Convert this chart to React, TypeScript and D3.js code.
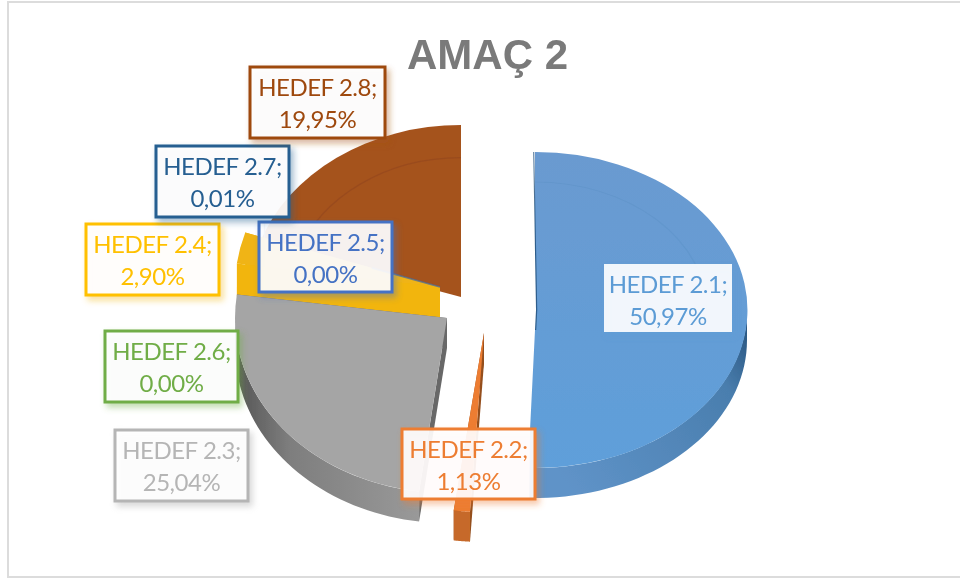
import React from "react";
import * as d3 from "d3";

const title = "AMAÇ 2";
const categories = ["HEDEF 2.1", "HEDEF 2.2", "HEDEF 2.3", "HEDEF 2.4", "HEDEF 2.5", "HEDEF 2.6", "HEDEF 2.7", "HEDEF 2.8"];
const shares = [50.97, 1.13, 25.04, 2.9, 0.0, 0.0, 0.01, 19.95];
const shareLabels = ["50,97%", "1,13%", "25,04%", "2,90%", "0,00%", "0,00%", "0,01%", "19,95%"];
const colors = ["#5f9bd5", "#ed7d31", "#a5a5a5", "#f0b414", "#4472c4", "#70ad47", "#255e91", "#a5521e"];
const labelText = ["#5b9bd5", "#ed7d31", "#b5b5b5", "#ffc000", "#4472c4", "#70ad47", "#255e91", "#9e480e"];

// exploded slice placement: apex x, apex y, radius x, radius y
const sliceFrames: [number, number, number, number][] = [
  [535, 310, 212, 158],
  [484, 333, 230, 179],
  [447, 318, 212, 175],
  [440, 287, 205, 175],
  [440, 287, 205, 175],
  [440, 287, 205, 175],
  [461, 297, 212, 172],
  [461, 297, 212, 172],
];
// label box: left, top, right, bottom
const labelBoxes: [number, number, number, number][] = [
  [603, 263, 733, 333],
  [401, 428, 536, 500],
  [114, 429, 249, 502],
  [85, 223, 220, 296],
  [258, 221, 393, 293],
  [104, 330, 239, 403],
  [155, 145, 290, 218],
  [249, 66, 386, 139],
];
const paintOrder = [7, 6, 4, 5, 3, 2, 1, 0];
const DEPTH = 30;

const pie = d3.pie<number>().sort(null).startAngle(0).endAngle(2 * Math.PI);
const arcs = pie(shares);
const unitArc = d3.arc<any>().innerRadius(0).outerRadius(1);
const rimArc = d3.arc<any>().innerRadius(0.81).outerRadius(0.81);

function pt(f: number[], a: number, r = 1, dz = 0): [number, number] {
  return [f[0] + f[2] * r * Math.sin(a), f[1] - f[3] * r * Math.cos(a) + dz];
}
const line = d3.line();

function outerWall(f: number[], a0: number, a1: number): string | null {
  const s = Math.max(a0, Math.PI / 2);
  const e = Math.min(a1, (3 * Math.PI) / 2);
  if (e <= s) return null;
  const angs = d3.range(0, 41).map((i) => s + ((e - s) * i) / 40);
  const top = angs.map((a) => pt(f, a));
  const bottom = angs.slice().reverse().map((a) => pt(f, a, 1, DEPTH));
  return line([...top, ...bottom]) + "Z";
}
function radialWall(f: number[], a: number, depth = DEPTH): string {
  return line([pt(f, a, 0), pt(f, a), pt(f, a, 1, depth), pt(f, a, 0, depth)]) + "Z";
}

export default function App() {
  return (
    <svg width={960} height={579} style={{ position: "absolute", left: 0, top: 0, background: "#fff" }}>
      <defs>
        <filter id="soft" x="-5%" y="-5%" width="110%" height="110%">
          <feGaussianBlur stdDeviation="0.7" />
        </filter>
        <filter id="txt" x="-5%" y="-5%" width="110%" height="110%">
          <feGaussianBlur stdDeviation="0.35" />
        </filter>
        {colors.map((c, i) => (
          <filter key={i} id={`sh${i}`} x="-10%" y="-10%" width="125%" height="130%">
            <feDropShadow dx="3" dy="4" stdDeviation="3" floodColor={c} floodOpacity="0.45" />
          </filter>
        ))}
        <linearGradient id="wall0" x1="1" y1="0" x2="0" y2="0.6">
          <stop offset="0" stopColor="#234e78" />
          <stop offset="0.25" stopColor="#4a7eae" />
          <stop offset="1" stopColor="#5f93c8" />
        </linearGradient>
        <linearGradient id="wall2" x1="0" y1="0" x2="1" y2="0">
          <stop offset="0" stopColor="#555" />
          <stop offset="0.3" stopColor="#7e7e7e" />
          <stop offset="1" stopColor="#999" />
        </linearGradient>
        <linearGradient id="top0" x1="0" y1="0" x2="0" y2="1">
          <stop offset="0" stopColor="#6a9ad0" />
          <stop offset="1" stopColor="#5f9fda" />
        </linearGradient>
        <clipPath id="blueEdge">
          <polygon points="533,140 536,310 530,430 529,520 780,520 780,140" />
        </clipPath>
      </defs>

      <rect x={8} y={2} width={990} height={575} fill="#fff" stroke="#dcdcdc" strokeWidth={2} />

      <text x={487.5} y={69} textAnchor="middle" fontFamily="'Liberation Sans', Arial, sans-serif" fontWeight={700} fontSize={42} fill="#7a7a7a" filter="url(#txt)">
        {title}
      </text>

      <g filter="url(#soft)">
        {paintOrder.map((i) => {
          const d = arcs[i];
          const f = sliceFrames[i];
          const zero = shares[i] < 0.5;
          if (zero) {
            const [x1, y1] = pt(f, d.startAngle, 0.35);
            const [x2, y2] = pt(f, d.startAngle);
            return i === 6 ? (
              <path key={i} d={line([[x2 + 5, y2 - 20], [x2 + 5, y2 + 5]]) as string} stroke="#7f93a8" strokeWidth={1.5} fill="none" />
            ) : null;
          }
          const outer = outerWall(f, d.startAngle, d.endAngle);
          const base = d3.color(colors[i]) as d3.RGBColor;
          const sideFill = i === 3 ? "#f2b50f" : base.darker(1.3).toString();
          const sideDepth = i === 3 ? DEPTH + 3 : DEPTH;
          return (
            <g key={i} clipPath={i === 0 ? "url(#blueEdge)" : undefined}>
              {i !== 7 && <path d={radialWall(f, d.startAngle, sideDepth)} fill={sideFill} />}
              {i !== 7 && <path d={radialWall(f, d.endAngle, sideDepth)} fill={sideFill} />}
              {outer && <path d={outer} fill={i === 0 ? "url(#wall0)" : i === 2 ? "url(#wall2)" : base.darker(0.5).toString()} />}
              <path
                d={unitArc({ startAngle: d.startAngle, endAngle: d.endAngle }) as string}
                transform={`translate(${f[0]},${f[1]}) scale(${f[2]},${f[3]})`}
                fill={i === 0 ? "url(#top0)" : colors[i]}
              />
              {i === 3 && (
                <path d={line([pt(f, d.endAngle, 0.35), pt(f, d.endAngle, 0)]) as string} stroke="#4a6a9a" strokeWidth={1.8} fill="none" opacity={0.75} />
              )}
              {(i === 0 || i === 7) && (
                <path
                  d={rimArc({ startAngle: d.startAngle, endAngle: i === 0 ? Math.PI / 2 : d.endAngle }) as string}
                  transform={`translate(${f[0]},${f[1]}) scale(${f[2]},${f[3]})`}
                  fill="none"
                  stroke={base.darker(0.35).toString()}
                  strokeWidth={1.2}
                  vectorEffect="non-scaling-stroke"
                  opacity={i === 0 ? 0.25 : 0.6}
                />
              )}
              {i === 0 && (
                <path d={line([[533, 152], [536, 310], [535, 330]]) as string} stroke="#1f4e79" strokeWidth={2.5} fill="none" opacity={0.8} />
              )}
            </g>
          );
        })}
      </g>

      {categories.map((c, i) => {
        const [l, t, r, b] = labelBoxes[i];
        const mid = (l + r) / 2;
        return (
          <g key={c}>
            <rect
              x={l + 1}
              y={t + 1}
              width={r - l - 2}
              height={b - t - 2}
              fill="#ffffff"
              fillOpacity={0.9}
              stroke={i === 0 ? "#ffffff" : i === 2 ? "#b5b5b5" : labelText[i]}
              strokeWidth={i === 0 ? 0 : 3}
              filter={`url(#sh${i})`}
            />
            <g filter="url(#txt)" fontFamily="Lato, 'Open Sans', sans-serif" fontSize={24} letterSpacing={-0.45} fill={labelText[i]} textAnchor="middle">
              <text x={mid} y={t + 29.5}>{`${c};`}</text>
              <text x={mid} y={t + 62}>{shareLabels[i]}</text>
            </g>
          </g>
        );
      })}
    </svg>
  );
}
